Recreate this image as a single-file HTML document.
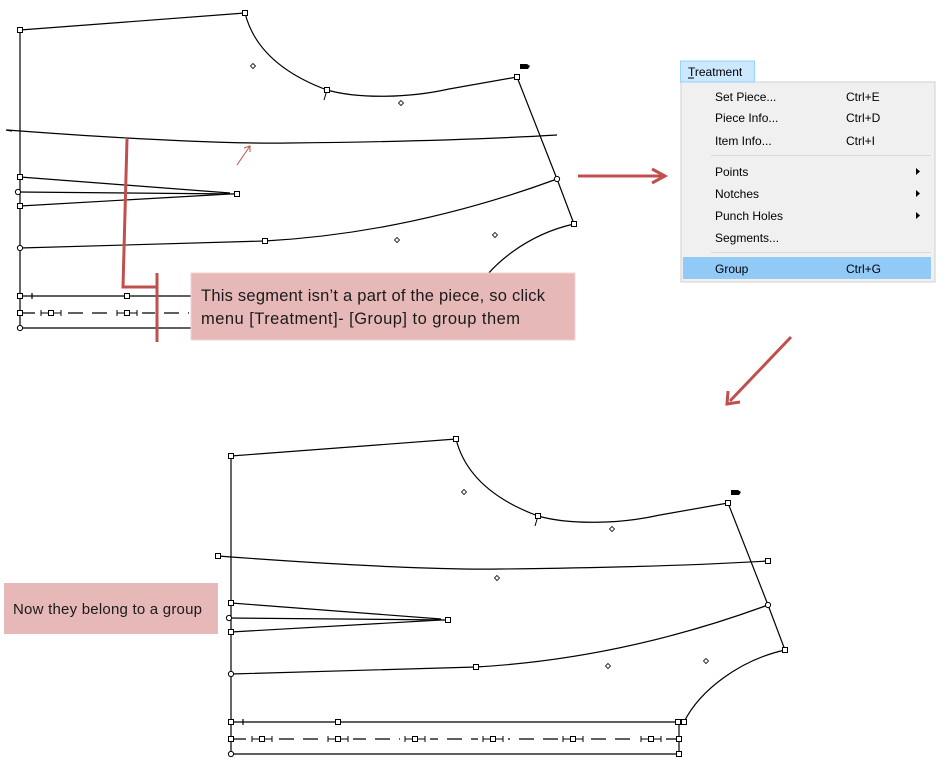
<!DOCTYPE html>
<html><head><meta charset="utf-8"><style>
html,body{margin:0;padding:0;background:#fff;}
svg{display:block;}
.t{font-family:"Liberation Sans",sans-serif;}
</style></head><body>
<svg width="951" height="778" viewBox="0 0 951 778" xmlns="http://www.w3.org/2000/svg">
<defs>
<g id="sq"><rect x="-2.5" y="-2.5" width="5" height="5" fill="#fff" stroke="#000" stroke-width="1"/></g>
<g id="ci"><circle r="2.6" fill="#fff" stroke="#000" stroke-width="1"/></g>
<g id="di"><path d="M0,-2.5 L2.5,0 L0,2.5 L-2.5,0Z" fill="#fff" stroke="#000" stroke-width="0.8"/></g>
<g id="mk"><path d="M-15,0h30" stroke="#fff" stroke-width="3"/><path d="M-10,-3v6M10,-3v6M-10,0h20" stroke="#000" stroke-width="1" fill="none"/><use href="#sq"/></g>
<g id="piece" fill="none" stroke="#000" stroke-width="1.2">
 <path d="M231,456 V754"/>
 <path d="M231,456 L456,439"/>
 <path d="M456,439 C465,475 495,500 538,516 C570,525 620,524 660,515 L728,503"/>
 <path d="M538,516 L535,526" stroke-width="1"/>
 <path d="M728,503 L768,605 L785,650"/>
 <path d="M231,603 L441,619 M229,618 L448,620 M231,632 L441,620"/>
 <path d="M231,674 L476,667 C600,660 700,630 768,605"/>
 <path d="M218,556 C350,566 450,570 500,569 C600,568 700,565 768,561"/>
 <path d="M231,722 L678,722 M243,719 v6"/>
 <path d="M785,650 C740,660 700,690 684,722"/>
 <path d="M231,739 H679" stroke-dasharray="15 9"/>
 <path d="M231,754 H679 M679,722 V754"/>
 <path d="M731,490 h7 l3,2 l-2,3 h-8z" fill="#000" stroke="none"/>
 <use href="#sq" x="231" y="456"/><use href="#sq" x="456" y="439"/><use href="#sq" x="538" y="516"/>
 <use href="#sq" x="728" y="503"/><use href="#ci" x="768" y="605"/><use href="#sq" x="785" y="650"/>
 <use href="#sq" x="231" y="603"/><use href="#ci" x="229" y="618"/><use href="#sq" x="231" y="632"/><use href="#sq" x="448" y="620"/>
 <use href="#ci" x="231" y="674"/><use href="#sq" x="476" y="667"/>
 <use href="#sq" x="231" y="722"/><use href="#sq" x="338" y="722"/><use href="#sq" x="678" y="722"/><use href="#sq" x="684" y="722"/>
 <use href="#mk" x="262" y="739"/><use href="#mk" x="338" y="739"/><use href="#mk" x="415" y="739"/><use href="#mk" x="493" y="739"/><use href="#mk" x="573" y="739"/><use href="#mk" x="651" y="739"/>
 <use href="#sq" x="231" y="739"/><use href="#sq" x="679" y="739"/>
 <use href="#ci" x="231" y="754"/><use href="#sq" x="679" y="754"/>
 <use href="#di" x="464" y="492"/><use href="#di" x="612" y="529"/><use href="#di" x="608" y="666"/><use href="#di" x="706" y="661"/>
</g>
</defs>

<g transform="translate(-211,-426)"><use href="#piece"/></g>
<path d="M6,130 L12,131" stroke="#000" stroke-width="1.2"/>

<use href="#piece"/>
<use href="#sq" x="218" y="556"/><use href="#sq" x="768" y="561"/><use href="#di" x="497" y="578"/>

<path d="M127,139 L123,287 L157,287" fill="none" stroke="#c0504d" stroke-width="3"/>
<path d="M157,273 V342" stroke="#c0504d" stroke-width="3"/>
<path d="M237,165 L250,146 M244,148 L250,146 L250,152" fill="none" stroke="#c0504d" stroke-width="1"/>

<rect x="191" y="273" width="384" height="67" fill="#e6b9b8" stroke="#f0d4d3" stroke-width="1"/>
<text class="t" x="201" y="301" font-size="16.5" fill="#1a1a1a" textLength="344">This segment isn’t a part of the piece, so click</text>
<text class="t" x="201" y="324" font-size="16.5" fill="#1a1a1a" textLength="319">menu [Treatment]- [Group] to group them</text>

<rect x="4" y="583" width="214" height="51" fill="#e6b9b8"/>
<text class="t" x="13" y="614" font-size="15" fill="#1a1a1a" textLength="189">Now they belong to a group</text>

<path d="M578,176 H662" stroke="#c0504d" stroke-width="3"/>
<path d="M652,169 L665,176 L652,183" fill="none" stroke="#c0504d" stroke-width="3"/>
<path d="M791,337 L730,401" stroke="#c0504d" stroke-width="3"/>
<path d="M728,391 L727,404 L740,402" fill="none" stroke="#c0504d" stroke-width="3"/>

<rect x="681" y="82" width="254" height="200" fill="#f0f0f0" stroke="#cfcfcf"/>
<rect x="680.5" y="61" width="74" height="21" fill="#cce8ff" stroke="#99d1ff"/>
<text class="t" x="688" y="76" font-size="12" fill="#000">Treatment</text>
<path d="M688,78 h6" stroke="#000"/>
<g class="t" font-size="12" fill="#000">
<text x="715" y="101">Set Piece...</text><text x="846" y="101">Ctrl+E</text>
<text x="715" y="122">Piece Info...</text><text x="846" y="122">Ctrl+D</text>
<text x="715" y="145">Item Info...</text><text x="846" y="145">Ctrl+I</text>
<text x="715" y="176">Points</text>
<text x="715" y="198">Notches</text>
<text x="715" y="220">Punch Holes</text>
<text x="715" y="242">Segments...</text>
</g>
<path d="M711,155.5 H931 M711,252.5 H931" stroke="#d8d8d8"/>
<path d="M916,168 l4,3.5 l-4,3.5z M916,190 l4,3.5 l-4,3.5z M916,212 l4,3.5 l-4,3.5z" fill="#000"/>
<rect x="683" y="257" width="248" height="22" fill="#91c9f7"/>
<text class="t" x="715" y="273" font-size="12" fill="#000">Group</text>
<text class="t" x="846" y="273" font-size="12" fill="#000">Ctrl+G</text>
</svg>
</body></html>
